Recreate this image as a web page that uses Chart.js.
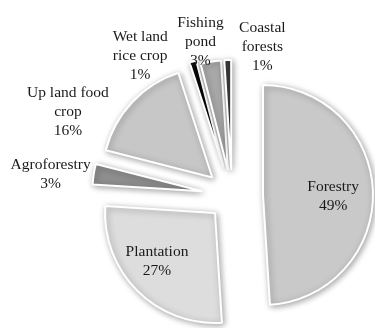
<!DOCTYPE html>
<html>
<head>
<meta charset="utf-8">
<script src="https://cdn.jsdelivr.net/npm/chart.js@4/dist/chart.umd.min.js"></script>
<style>
  html, body { margin: 0; padding: 0; background: #ffffff; }
  #wrap { position: relative; width: 375px; height: 328px; }
</style>
</head>
<body>
<div id="wrap"><canvas id="c"></canvas></div>
<script>
// ---- data ----
const categories = ["Forestry", "Plantation", "Agroforestry", "Up land food crop", "Wet land rice crop", "Fishing pond", "Coastal forests"];
const labelLines = [["Forestry"], ["Plantation"], ["Agroforestry"], ["Up land food", "crop"], ["Wet land", "rice crop"], ["Fishing", "pond"], ["Coastal", "forests"]];
const shares = [49, 27, 3, 16, 1, 3, 1];

// ---- styles ----
const sliceColors = ["#c9c9c9", "#dddddd", "#8e8e8e", "#c7c7c7", "#0a0a0a", "#a9a9a9", "#3c3c3c"];
const explode = [31, 24, 30, 27, 30, 26, 26];           // px each slice is pulled out
const labelDist = [0.92, 0.90, 1.66, 1.61, 1.46, 1.43, 1.35]; // label distance (x radius) from pie centre
const labelNudge = [[0, 4], [-5, -5], [-1, 7], [-35, 37], [-47, 14], [-7, 1], [35, -1]];

const explodePlugin = {
  id: 'explode',
  afterDatasetUpdate(chart, args) {
    const meta = args.meta;
    meta.data.forEach((arc, i) => {
      const mid = (arc.startAngle + arc.endAngle) / 2;
      arc._baseX = arc.x; arc._baseY = arc.y;
      arc.x = arc.x + Math.cos(mid) * explode[i];
      arc.y = arc.y + Math.sin(mid) * explode[i];
    });
  },
  beforeDatasetsDraw(chart) {
    const ctx = chart.ctx;
    ctx.save();
    ctx.shadowColor = 'rgba(0,0,0,0.35)';
    ctx.shadowBlur = 6;
    ctx.shadowOffsetX = 1.5;
    ctx.shadowOffsetY = 1.5;
  },
  afterDatasetsDraw(chart) {
    const ctx = chart.ctx;
    ctx.restore();
    const meta = chart.getDatasetMeta(0);
    const total = shares.reduce((a, b) => a + b, 0);
    ctx.save();
    ctx.font = '15.5px "Liberation Serif", "Times New Roman", serif';
    ctx.fillStyle = '#1a1a1a';
    ctx.textAlign = 'center';
    ctx.textBaseline = 'middle';
    const lh = 19;
    meta.data.forEach((arc, i) => {
      const mid = (arc.startAngle + arc.endAngle) / 2;
      const r = arc.outerRadius;
      const cx = arc._baseX + Math.cos(mid) * r * labelDist[i] + labelNudge[i][0];
      const cy = arc._baseY + Math.sin(mid) * r * labelDist[i] + labelNudge[i][1];
      const lines = labelLines[i].concat([Math.round(shares[i] / total * 100) + '%']);
      const y0 = cy - (lines.length - 1) * lh / 2;
      lines.forEach((t, k) => ctx.fillText(t, cx, y0 + k * lh));
    });
    ctx.restore();
  }
};

new Chart(document.getElementById('c'), {
  type: 'pie',
  data: {
    labels: categories,
    datasets: [{
      data: shares,
      backgroundColor: sliceColors,
      borderColor: '#ffffff',
      borderWidth: 2
    }]
  },
  options: {
    responsive: true,
    maintainAspectRatio: false,
    animation: false,
    radius: 110,
    layout: { padding: { left: 89, right: 0, top: 64, bottom: 0 } },
    plugins: {
      legend: { display: false },
      tooltip: { enabled: false }
    }
  },
  plugins: [explodePlugin]
});
</script>
</body>
</html>
